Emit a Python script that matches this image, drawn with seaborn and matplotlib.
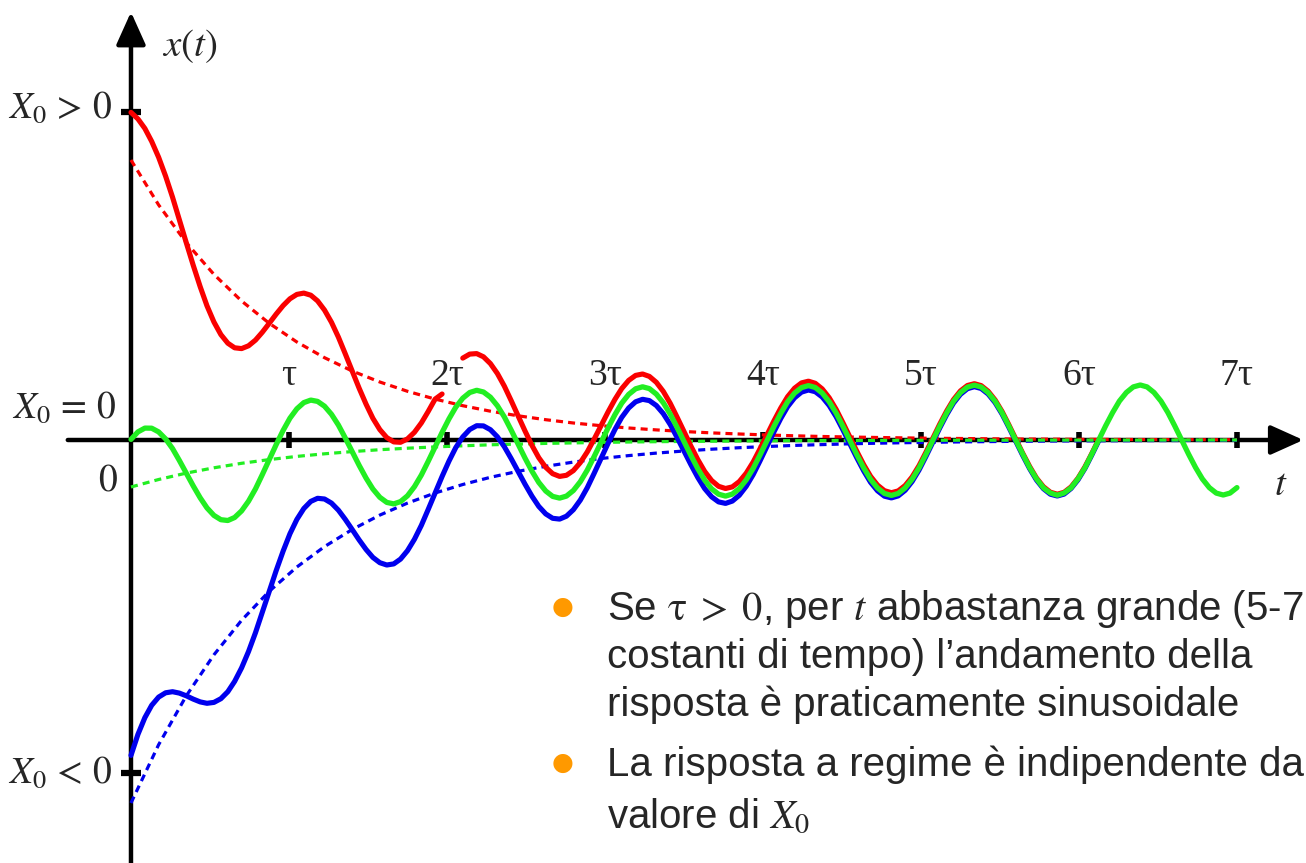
import numpy as np
import matplotlib
matplotlib.use("Agg")
import matplotlib.pyplot as plt
import seaborn as sns

# tempo in unita' di tau (un campione ogni 0.04375 tau)
t = [0.0, 0.044, 0.088, 0.131, 0.175, 0.219, 0.263, 0.306,
     0.35, 0.394, 0.438, 0.481, 0.525, 0.569, 0.613, 0.656,
     0.7, 0.744, 0.788, 0.831, 0.875, 0.919, 0.963, 1.006,
     1.05, 1.094, 1.138, 1.181, 1.225, 1.269, 1.313, 1.356,
     1.4, 1.444, 1.488, 1.531, 1.575, 1.619, 1.663, 1.706,
     1.75, 1.794, 1.838, 1.881, 1.925, 1.969, 2.013, 2.056,
     2.1, 2.144, 2.188, 2.231, 2.275, 2.319, 2.363, 2.406,
     2.45, 2.494, 2.538, 2.581, 2.625, 2.669, 2.713, 2.756,
     2.8, 2.844, 2.888, 2.931, 2.975, 3.019, 3.063, 3.106,
     3.15, 3.194, 3.238, 3.281, 3.325, 3.369, 3.413, 3.456,
     3.5, 3.544, 3.588, 3.631, 3.675, 3.719, 3.763, 3.806,
     3.85, 3.894, 3.938, 3.981, 4.025, 4.069, 4.113, 4.156,
     4.2, 4.244, 4.288, 4.331, 4.375, 4.419, 4.463, 4.506,
     4.55, 4.594, 4.638, 4.681, 4.725, 4.769, 4.813, 4.856,
     4.9, 4.944, 4.988, 5.031, 5.075, 5.119, 5.163, 5.206,
     5.25, 5.294, 5.338, 5.381, 5.425, 5.469, 5.513, 5.556,
     5.6, 5.644, 5.688, 5.731, 5.775, 5.819, 5.863, 5.906,
     5.95, 5.994, 6.038, 6.081, 6.125, 6.169, 6.213, 6.256,
     6.3, 6.344, 6.388, 6.431, 6.475, 6.519, 6.563, 6.606,
     6.65, 6.694, 6.738, 6.781, 6.825, 6.869, 6.913, 6.956,
     7.0]

# risposte x(t) (unita' arbitrarie, asse t = 0)
x_red = [327.6, 321.1, 311.5, 298.6, 282.7, 263.9, 242.8, 220.3, 197.3, 174.7,
         153.3, 134.2, 118.0, 105.4, 96.8, 92.2, 91.4, 94.2, 99.9, 107.7,
         116.7, 125.9, 134.4, 141.2, 145.6, 146.9, 144.8, 139.1, 129.9, 117.7,
         102.8, 86.3, 69.0, 51.8, 35.8, 21.7, 10.4, 2.4, -1.9, -2.3,
         1.1, 7.7, 17.1, 28.5, 40.9, 46.0, np.nan, np.nan, 81.9, 85.9,
         86.4, 83.2, 76.4, 66.5, 53.9, 39.5, 24.2, 9.0, -5.4, -17.7,
         -27.3, -33.7, -36.4, -35.3, -30.6, -22.6, -11.9, 0.7, 14.3, 27.9,
         40.6, 51.4, 59.6, 64.6, 66.0, 63.6, 57.7, 48.6, 36.7, 23.0,
         8.5, -6.1, -19.7, -31.4, -40.5, -46.3, -48.5, -46.9, -41.6, -33.2,
         -22.0, -8.9, 5.0, 19.0, 32.1, 43.3, 51.8, 57.1, 58.8, 56.7,
         51.1, 42.3, 30.7, 17.3, 3.0, -11.3, -24.8, -36.3, -45.1, -50.7,
         -52.7, -50.9, -45.5, -36.9, -25.6, -12.4, 1.7, 15.9, 29.1, 40.4,
         49.1, 54.5, 56.3, 54.4, 48.8, 40.1, 28.6, 15.3, 1.0, -13.2,
         -26.5, -38.0, -46.7, -52.2, -54.2, -52.3, -46.9, -38.2, -26.8, -13.6,
         0.6]
x_blue = [-315.4, -294.4, -277.6, -265.3, -257.1, -252.8, -251.7, -253.1, -255.8, -259.1,
          -261.9, -263.3, -262.4, -258.7, -251.7, -241.4, -227.9, -211.5, -192.7, -172.3,
          -151.3, -130.6, -111.1, -93.8, -79.4, -68.5, -61.4, -58.3, -59.0, -63.1,
          -70.2, -79.3, -89.5, -99.9, -109.5, -117.4, -122.7, -125.0, -123.9, -119.1,
          -110.7, -99.3, -85.3, -69.5, -53.0, -36.5, -21.0, -7.5, 3.1, 10.5,
          14.3, 14.1, 10.3, 3.2, -6.7, -18.5, -31.3, -44.2, -56.2, -66.4,
          -73.9, -78.3, -79.1, -76.2, -69.7, -60.1, -47.7, -33.5, -18.5, -3.5,
          10.5, 22.6, 32.0, 38.2, 40.7, 39.4, 34.5, 26.4, 15.5, 2.7,
          -11.0, -24.7, -37.6, -48.6, -56.8, -61.9, -63.4, -61.1, -55.3, -46.3,
          -34.6, -21.0, -6.5, 8.0, 21.6, 33.3, 42.2, 47.9, 50.0, 48.3,
          43.0, 34.5, 23.3, 10.2, -3.8, -17.8, -31.0, -42.3, -50.8, -56.2,
          -57.9, -55.9, -50.3, -41.5, -30.0, -16.6, -2.3, 12.0, 25.4, 36.9,
          45.7, 51.3, 53.3, 51.5, 46.0, 37.4, 26.0, 12.8, -1.3, -15.4,
          -28.7, -40.0, -48.7, -54.2, -56.0, -54.1, -48.5, -39.8, -28.4, -15.1,
          -0.8]
x_green = [0.6, 8.1, 11.9, 11.8, 8.1, 1.1, -8.6, -20.4, -33.1, -45.9,
           -57.8, -67.9, -75.4, -79.7, -80.5, -77.5, -70.9, -61.2, -48.9, -34.7,
           -19.6, -4.6, 9.6, 21.8, 31.2, 37.4, 39.9, 38.6, 33.8, 25.7,
           14.9, 2.1, -11.6, -25.3, -38.1, -49.0, -57.3, -62.4, -63.9, -61.6,
           -55.8, -46.7, -35.0, -21.4, -6.9, 7.6, 21.2, 32.9, 41.8, 47.5,
           49.7, 48.0, 42.8, 34.3, 23.1, 10.0, -4.1, -18.1, -31.2, -42.4,
           -51.0, -56.4, -58.1, -56.1, -50.5, -41.7, -30.1, -16.7, -2.4, 11.9,
           25.3, 36.8, 45.6, 51.2, 53.2, 51.4, 45.9, 37.3, 25.9, 12.7,
           -1.4, -15.5, -28.8, -40.1, -48.8, -54.2, -56.1, -54.1, -48.6, -39.9,
           -28.4, -15.1, -0.8, 13.4, 26.7, 38.2, 46.9, 52.4, 54.4, 52.5,
           47.0, 38.3, 27.0, 13.7, -0.5, -14.7, -28.0, -39.4, -48.0, -53.5,
           -55.4, -53.5, -47.9, -39.2, -27.8, -14.5, -0.3, 13.9, 27.2, 38.7,
           47.4, 52.9, 54.8, 53.0, 47.4, 38.8, 27.3, 14.1, -0.2, -14.1,
           -27.7, -38.8, -47.8, -53.0, -55.2, -53.0, -47.8, -38.8, -27.7, -14.2,
           -0.1, 14.2, 27.4, 38.9, 47.5, 53.1, 55.0, 53.1, 47.5, 38.9,
           27.4, 14.2, 0.0, -14.2, -27.5, -38.9, -47.6, -53.1, -55.0, -53.1,
           -47.6]

# componenti transitorie (tratteggiate), un punto ogni quattro campioni
exp_red = [280.0, 235.1, 197.3, 165.6, 139.0, 116.7, 98.0, 82.3, 69.0, 58.0,
           48.7, 40.9, 34.3, 28.8, 24.2, 20.3, 17.0, 14.3, 12.0, 10.1,
           8.5, 7.1, 6.0, 5.0, 4.2, 3.5, 3.0, 2.5, 2.1, 1.7,
           1.5, 1.2, 1.0, 0.9, 0.7, 0.6, 0.5, 0.4, 0.4, 0.3, 0.3]
exp_blue = [-363.0, -304.7, -255.8, -214.8, -180.3, -151.3, -127.0, -106.6, -89.5, -75.1,
            -63.1, -53.0, -44.5, -37.3, -31.3, -26.3, -22.1, -18.5, -15.6, -13.1,
            -11.0, -9.2, -7.7, -6.5, -5.4, -4.6, -3.8, -3.2, -2.7, -2.3,
            -1.9, -1.6, -1.3, -1.1, -0.9, -0.8, -0.7, -0.6, -0.5, -0.4, -0.3]
exp_green = [-47.0, -39.5, -33.1, -27.8, -23.3, -19.6, -16.4, -13.8, -11.6, -9.7,
             -8.2, -6.9, -5.8, -4.8, -4.1, -3.4, -2.9, -2.4, -2.0, -1.7,
             -1.4, -1.2, -1.0, -0.8, -0.7, -0.6, -0.5, -0.4, -0.3, -0.3,
             -0.2, -0.2, -0.2, -0.1, -0.1, -0.1, -0.1, -0.1, 0.0, 0.0, 0.0]

tick_pos = [1, 2, 3, 4, 5, 6, 7]
tick_lab = ["τ", "2τ", "3τ", "4τ", "5τ", "6τ", "7τ"]
x0_pos = [328, -333]

bullet_lines = [
    ("Se $\\mathrm{\\tau}\\;>\\;0$, per $t$ abbastanza grande (5-7", True),
    ("costanti di tempo) l’andamento della", False),
    ("risposta è praticamente sinusoidale", False),
    ("La risposta a regime è indipendente da", True),
    ("valore di $X_0$", False),
]
line_y = [620, 668, 716, 776, 828]   # righe di base, px dall'alto

RED, GREEN, BLUE = "#fa0000", "#22ee22", "#0000ee"

sns.set_style("white")
plt.rcParams["font.family"] = ["Liberation Sans", "DejaVu Sans"]
plt.rcParams["mathtext.fontset"] = "stix"

W, H = 1306, 863
fig = plt.figure(figsize=(W / 100, H / 100), dpi=100)
ax = fig.add_axes([0, 0, 1, 1])
ax.set_xlim(-0.829, 7.437)
ax.set_ylim(-423, 440)
ax.axis("off")

# assi con frecce
arrow = dict(arrowstyle="-|>,head_length=2.0,head_width=0.9", lw=3.2,
             color="k", shrinkA=0, shrinkB=0, mutation_scale=10)
ax.annotate("", xy=(7.42, 0), xytext=(-0.40, 0), arrowprops=arrow, zorder=1)
ax.annotate("", xy=(0, 428), xytext=(0, -440), arrowprops=arrow, zorder=1)
ax.plot(tick_pos, [0] * len(tick_pos), ls="none", marker="|", ms=12,
        mew=4, color="k", zorder=2)
ax.plot([0] * len(x0_pos), x0_pos, ls="none", marker="_", ms=14,
        mew=4.5, color="k", zorder=2)

# esponenziali tratteggiate
td = t[::4]
for vals, col in [(exp_red, RED), (exp_blue, BLUE), (exp_green, GREEN)]:
    sns.lineplot(x=td, y=vals, color=col, lw=2.3, linestyle=(0, (2.2, 1.6)),
                 estimator=None, ax=ax, zorder=2.5)

# risposte complete (la rossa ha un'interruzione vicino a 2 tau)
red = np.array(x_red, dtype=float)
tr = np.array(t[:len(x_red)])
gaps = np.where(np.isnan(red))[0]
for sl in (slice(0, gaps[0]), slice(gaps[-1] + 1, None)):
    sns.lineplot(x=tr[sl], y=red[sl], color=RED, lw=3.7, estimator=None,
                 ax=ax, zorder=3)
sns.lineplot(x=t[:len(x_blue)], y=x_blue, color=BLUE, lw=3.7, estimator=None,
             ax=ax, zorder=3.2)
sns.lineplot(x=t[:len(x_green)], y=x_green, color=GREEN, lw=3.8, estimator=None,
             ax=ax, zorder=3.4)

# etichette
serif = "Liberation Serif"
for p, lab in zip(tick_pos, tick_lab):
    ax.text(p, 440 - 385, lab, ha="center", va="baseline", fontsize=27,
            family=serif)

def ftext(px, py, s, **kw):
    fig.text(px / W, 1 - py / H, s, **kw)

ftext(162, 56, "$x(t)$", fontsize=28, va="baseline", ha="left")
ftext(112, 118, "$X_0\\,>\\,0$", fontsize=27, va="baseline", ha="right")
ftext(116, 418, "$X_0\\,=\\,0$", fontsize=27, va="baseline", ha="right")
ftext(118, 490, "$0$", fontsize=27, va="baseline", ha="right")
ftext(112, 783, "$X_0\\,<\\,0$", fontsize=27, va="baseline", ha="right")
ftext(1281, 495, "$t$", fontsize=28, va="baseline", ha="center")

for (s, bullet), y in zip(bullet_lines, line_y):
    ftext(607, y, s, fontsize=29, va="baseline", ha="left")
    if bullet:
        ftext(563, y - 13, "●", fontsize=18, color="#ff9900", ha="center",
              va="center", family="DejaVu Sans")

fig.savefig("out.png", dpi=100)
